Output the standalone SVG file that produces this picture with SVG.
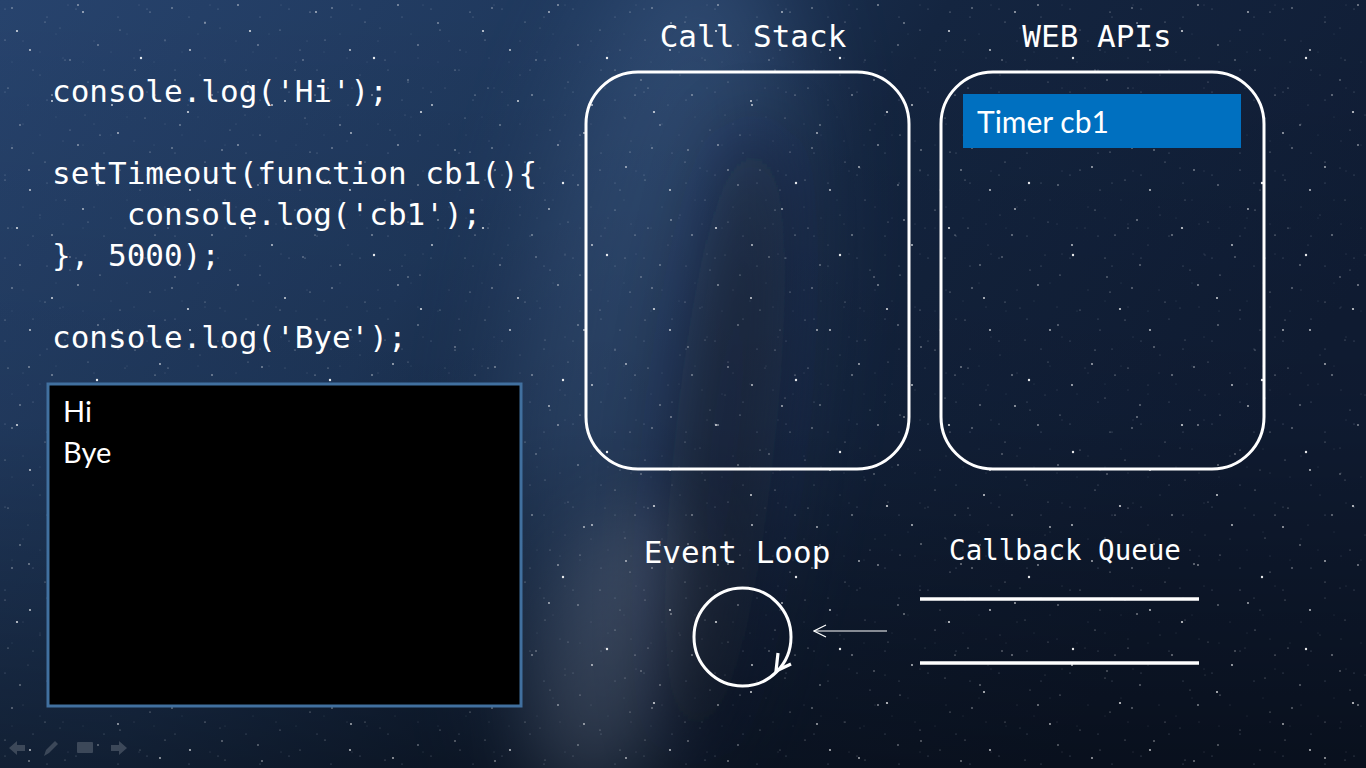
<svg xmlns="http://www.w3.org/2000/svg" width="1366" height="768" viewBox="0 0 1366 768">
<defs>
<style>
.code{font-family:"DejaVu Sans Mono","Liberation Mono",monospace;font-size:31px;fill:#ffffff}
.title{font-family:"DejaVu Sans Mono","Liberation Mono",monospace;font-size:31px;fill:#ffffff}
.small{font-family:"DejaVu Sans Mono","Liberation Mono",monospace;font-size:27.5px;fill:#ffffff}
.cal{font-family:Lato,"Open Sans","Liberation Sans",sans-serif;fill:#ffffff}
.box{fill:none;stroke:#ffffff;stroke-width:3}
.ln{stroke:#ffffff;stroke-width:3.5;fill:none}
.nav{fill:#4b5566;opacity:0.75}
</style>
<linearGradient id="bg" x1="0" y1="0" x2="1" y2="0.35">
<stop offset="0" stop-color="#27436d"/>
<stop offset="0.38" stop-color="#1f385c"/>
<stop offset="0.62" stop-color="#142540"/>
<stop offset="1" stop-color="#101d35"/>
</linearGradient>
<linearGradient id="shade" x1="0" y1="0" x2="0" y2="1">
<stop offset="0" stop-color="#000" stop-opacity="0"/>
<stop offset="0.55" stop-color="#000" stop-opacity="0.1"/>
<stop offset="1" stop-color="#000" stop-opacity="0.45"/>
</linearGradient>
<filter id="b50" x="-100%" y="-50%" width="300%" height="200%"><feGaussianBlur stdDeviation="50"/></filter>
<filter id="b35" x="-100%" y="-50%" width="300%" height="200%"><feGaussianBlur stdDeviation="35"/></filter>
<filter id="b25" x="-100%" y="-50%" width="300%" height="200%"><feGaussianBlur stdDeviation="25"/></filter>
<pattern id="sA" width="160" height="140" patternUnits="userSpaceOnUse">
<g fill="#fff">
<circle cx="12" cy="8" r="0.7" opacity=".7"/><circle cx="45" cy="22" r="0.5" opacity=".6"/><circle cx="78" cy="5" r="0.8" opacity=".8"/><circle cx="120" cy="30" r="0.6" opacity=".5"/><circle cx="150" cy="12" r="0.5" opacity=".7"/><circle cx="30" cy="50" r="0.9" opacity=".8"/><circle cx="65" cy="60" r="0.5" opacity=".5"/><circle cx="98" cy="45" r="0.7" opacity=".7"/><circle cx="135" cy="70" r="0.6" opacity=".6"/><circle cx="8" cy="88" r="0.6" opacity=".6"/><circle cx="52" cy="95" r="0.8" opacity=".7"/><circle cx="88" cy="82" r="0.5" opacity=".5"/><circle cx="112" cy="105" r="0.9" opacity=".8"/><circle cx="145" cy="118" r="0.5" opacity=".6"/><circle cx="20" cy="125" r="0.7" opacity=".7"/><circle cx="70" cy="130" r="0.5" opacity=".5"/><circle cx="100" cy="135" r="0.6" opacity=".6"/><circle cx="40" cy="75" r="0.4" opacity=".5"/><circle cx="125" cy="88" r="0.4" opacity=".5"/><circle cx="5" cy="40" r="0.5" opacity=".6"/><circle cx="85" cy="115" r="0.4" opacity=".5"/><circle cx="155" cy="95" r="0.6" opacity=".7"/><circle cx="60" cy="28" r="0.4" opacity=".5"/><circle cx="140" cy="50" r="0.5" opacity=".5"/><circle cx="28" cy="105" r="0.4" opacity=".5"/>
</g>
</pattern>
<pattern id="sB" width="233" height="197" patternUnits="userSpaceOnUse">
<g fill="#fff">
<circle cx="17" cy="31" r="1.1" opacity=".8"/><circle cx="83" cy="12" r="0.9" opacity=".7"/><circle cx="141" cy="58" r="1.2" opacity=".9"/><circle cx="205" cy="23" r="0.8" opacity=".7"/><circle cx="52" cy="101" r="1" opacity=".8"/><circle cx="118" cy="133" r="0.9" opacity=".7"/><circle cx="188" cy="112" r="1.1" opacity=".8"/><circle cx="29" cy="170" r="0.8" opacity=".7"/><circle cx="97" cy="183" r="1.2" opacity=".9"/><circle cx="160" cy="167" r="0.9" opacity=".7"/><circle cx="222" cy="150" r="0.8" opacity=".6"/><circle cx="70" cy="60" r="0.7" opacity=".6"/><circle cx="175" cy="80" r="0.7" opacity=".6"/>
</g>
</pattern>
<pattern id="sC" width="71" height="83" patternUnits="userSpaceOnUse">
<g fill="#cfdcf0">
<circle cx="5" cy="9" r="0.5" opacity=".45"/><circle cx="23" cy="41" r="0.45" opacity=".4"/><circle cx="47" cy="17" r="0.5" opacity=".45"/><circle cx="63" cy="58" r="0.45" opacity=".4"/><circle cx="33" cy="70" r="0.5" opacity=".45"/><circle cx="12" cy="62" r="0.4" opacity=".35"/><circle cx="56" cy="34" r="0.4" opacity=".35"/><circle cx="40" cy="52" r="0.4" opacity=".35"/><circle cx="68" cy="5" r="0.45" opacity=".4"/>
</g>
</pattern>
<marker id="open" markerWidth="14" markerHeight="14" refX="13" refY="7" orient="auto" markerUnits="userSpaceOnUse">
<path d="M1,1 L13,7 L1,13" fill="none" stroke="#fff" stroke-width="1.2"/>
</marker>
</defs>

<g id="background">
<rect width="1366" height="768" fill="url(#bg)"/>
<ellipse cx="650" cy="380" rx="140" ry="460" transform="rotate(8 650 380)" fill="#5a80b4" opacity="0.3" filter="url(#b50)"/>
<ellipse cx="615" cy="650" rx="70" ry="150" transform="rotate(18 615 650)" fill="#a4b0cc" opacity="0.3" filter="url(#b35)"/>
<ellipse cx="725" cy="440" rx="50" ry="320" transform="rotate(6 725 440)" fill="#08101f" opacity="0.45" filter="url(#b35)"/>
<rect width="1366" height="768" fill="url(#shade)"/>
<rect width="1366" height="768" fill="url(#sC)"/>
<rect width="1366" height="768" fill="url(#sA)"/>
<rect width="1366" height="768" fill="url(#sB)"/>
</g>

<g id="code">
<text class="code" x="52" y="102">console.log('Hi');</text>
<text class="code" x="52" y="184">setTimeout(function cb1(){</text>
<text class="code" x="52" y="225" xml:space="preserve">    console.log('cb1');</text>
<text class="code" x="52" y="266">}, 5000);</text>
<text class="code" x="52" y="348">console.log('Bye');</text>
</g>

<g id="console">
<rect x="48" y="384" width="473" height="322" fill="#000" stroke="#41709f" stroke-width="3"/>
<text class="cal" x="63" y="422" font-size="29">Hi</text>
<text class="cal" x="63" y="463" font-size="29">Bye</text>
</g>

<g id="call-stack">
<text class="title" x="753" y="47" text-anchor="middle">Call Stack</text>
<rect class="box" x="586" y="72" width="323" height="397" rx="52" ry="52"/>
</g>

<g id="web-apis">
<text class="title" x="1097" y="47" text-anchor="middle">WEB APIs</text>
<rect class="box" x="941" y="72" width="323" height="397" rx="52" ry="52"/>
</g>

<g id="timer-cb1">
<rect x="963" y="94" width="278" height="54" fill="#0070c0"/>
<text class="cal" x="977" y="133" font-size="30">Timer cb1</text>
</g>

<g id="event-loop">
<text class="title" x="737" y="563" text-anchor="middle">Event Loop</text>
<ellipse class="box" cx="742.5" cy="637" rx="48.5" ry="49" stroke-width="3.2"/>
<path d="M778,653 L776,671 L791,664" fill="none" stroke="#fff" stroke-width="3.2" stroke-linejoin="miter"/>
</g>

<g id="callback-queue">
<text class="small" x="1065" y="560" text-anchor="middle">Callback Queue</text>
<line class="ln" x1="920" y1="599" x2="1199" y2="599"/>
<line class="ln" x1="920" y1="663" x2="1199" y2="663"/>
</g>

<g id="connectors">
<line x1="887" y1="631" x2="814" y2="631" stroke="#fff" stroke-width="1.2" marker-end="url(#open)"/>
</g>

<g id="nav">
<path class="nav" d="M9,748 L17,741 L17,745 L25,745 L25,751 L17,751 L17,755 Z"/>
<path class="nav" d="M44,756 L46,750 L55,741 L58,744 L49,753 Z"/>
<rect class="nav" x="77" y="742" width="16" height="11" rx="1"/>
<path class="nav" d="M127,748 L119,741 L119,745 L111,745 L111,751 L119,751 L119,755 Z"/>
</g>
</svg>
